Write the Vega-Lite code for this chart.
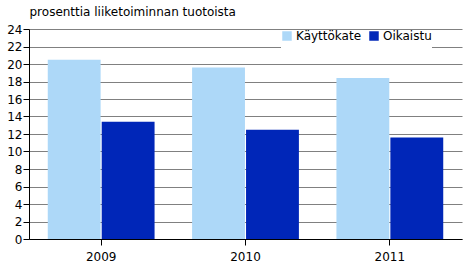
{
  "$schema": "https://vega.github.io/schema/vega-lite/v6.json",
  "width": 433,
  "height": 210,
  "autosize": {"type": "none"},
  "padding": {"left": 29, "top": 29, "right": 1, "bottom": 27},
  "background": "white",
  "data": {
    "values": [
      {"vuosi": "2009", "sarja": "Käyttökate", "arvo": 20.5},
      {"vuosi": "2009", "sarja": "Oikaistu", "arvo": 13.4},
      {"vuosi": "2010", "sarja": "Käyttökate", "arvo": 19.6},
      {"vuosi": "2010", "sarja": "Oikaistu", "arvo": 12.5},
      {"vuosi": "2011", "sarja": "Käyttökate", "arvo": 18.4},
      {"vuosi": "2011", "sarja": "Oikaistu", "arvo": 11.6}
    ]
  },
  "mark": {"type": "bar"},
  "encoding": {
    "x": {
      "field": "vuosi",
      "type": "nominal",
      "scale": {"paddingInner": 0.26, "paddingOuter": 0.13},
      "axis": {
        "title": null,
        "labelAngle": 0,
        "labelFont": "DejaVu Sans",
        "labelFontSize": 12,
        "labelColor": "#000000",
        "domainColor": "#000000",
        "tickColor": "#000000",
        "tickSize": 6,
        "labelPadding": 6
      }
    },
    "xOffset": {
      "field": "sarja",
      "type": "nominal",
      "scale": {"paddingInner": 0.02}
    },
    "y": {
      "field": "arvo",
      "type": "quantitative",
      "scale": {"domain": [0, 24], "nice": false},
      "axis": {
        "title": "prosenttia liiketoiminnan tuotoista",
        "titleAngle": 0,
        "titleAlign": "left",
        "titleBaseline": "alphabetic",
        "titleX": 0,
        "titleY": -14,
        "titleFont": "DejaVu Sans",
        "titleFontSize": 12,
        "titleFontWeight": "normal",
        "titleColor": "#000000",
        "values": [0, 2, 4, 6, 8, 10, 12, 14, 16, 18, 20, 22, 24],
        "grid": true,
        "gridColor": "#808080",
        "gridOpacity": 1,
        "labelFont": "DejaVu Sans",
        "labelFontSize": 12,
        "labelColor": "#000000",
        "domainColor": "#000000",
        "tickColor": "#000000",
        "tickSize": 6,
        "labelPadding": 1
      }
    },
    "color": {
      "field": "sarja",
      "type": "nominal",
      "scale": {"domain": ["Käyttökate", "Oikaistu"], "range": ["#ADD8F8", "#0026B8"]},
      "legend": {
        "title": " ",
        "titleOrient": "bottom",
        "titleFontSize": 6,
        "titlePadding": 0,
        "orient": "none",
        "legendX": 252,
        "legendY": 1,
        "direction": "horizontal",
        "fillColor": "white",
        "padding": 0,
        "symbolType": "square",
        "symbolSize": 90,
        "symbolStrokeWidth": 0,
        "labelFont": "DejaVu Sans",
        "labelFontSize": 12,
        "labelColor": "#000000",
        "columnPadding": 6,
        "labelOffset": 3
      }
    }
  },
  "config": {
    "view": {"stroke": null},
    "axis": {"domainWidth": 1, "gridWidth": 1}
  }
}
